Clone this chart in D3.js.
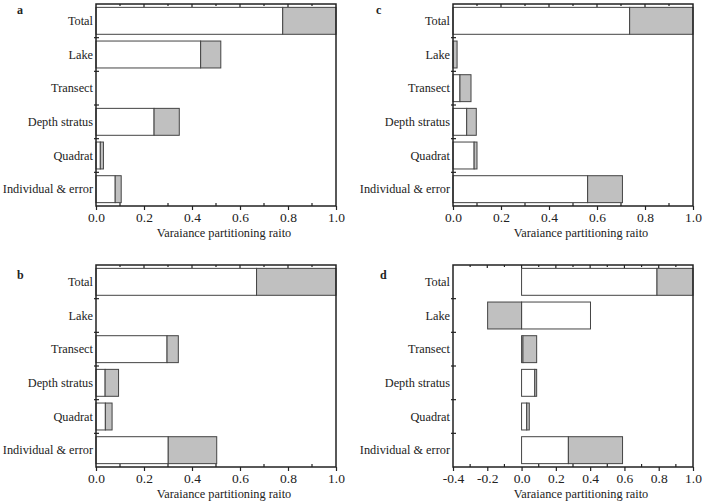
<!DOCTYPE html>
<html><head><meta charset="utf-8">
<script src="https://cdn.jsdelivr.net/npm/d3@7"></script>
<style>body{margin:0;background:#fff}svg{display:block}</style>
</head><body><svg id="c" width="704" height="504"></svg>
<script>
const categories = ["Total","Lake","Transect","Depth stratus","Quadrat","Individual & error"];
// white (first) component and grey (second) component for each panel
const whiteA = [0.778, 0.436, 0, 0.242, 0.018, 0.080];
const greyA  = [0.222, 0.084, 0, 0.105, 0.013, 0.025];
const whiteB = [0.669, 0, 0.296, 0.038, 0.039, 0.301];
const greyB  = [0.331, 0, 0.047, 0.056, 0.028, 0.202];
const whiteC = [0.736, 0, 0.029, 0.057, 0.088, 0.561];
const greyC  = [0.264, 0.017, 0.046, 0.040, 0.012, 0.145];
const whiteD = [0.790, 0.402, 0.008, 0.077, 0.030, 0.273];
const greyD  = [0.210, -0.198, 0.080, 0.011, 0.015, 0.316];
const ticksA = [0, 0.2, 0.4, 0.6, 0.8, 1.0];
const ticksD = [-0.4, -0.2, 0, 0.2, 0.4, 0.6, 0.8, 1.0];
const xTitle = "Varaiance partitioning raito";

const panels = [
  {label:"a", white:whiteA, grey:greyA, dom:[0,1], ticks:ticksA, l:96, r:336, t:4, b:206, lx:17, ly:14},
  {label:"c", white:whiteC, grey:greyC, dom:[0,1], ticks:ticksA, l:453, r:693, t:4, b:206, lx:376, ly:14},
  {label:"b", white:whiteB, grey:greyB, dom:[0,1], ticks:ticksA, l:96, r:336, t:265, b:467, lx:17, ly:279},
  {label:"d", white:whiteD, grey:greyD, dom:[-0.4,1], ticks:ticksD, l:453, r:693, t:265, b:467, lx:380, ly:279}
];
const svg = d3.select("#c");
const fmt = v => d3.format(".1f")(v).replace("\u2212","-");
const FONT = '"Times New Roman", Times, "Liberation Serif", serif';

panels.forEach(p => {
  const g = svg.append("g");
  const x = d3.scaleLinear().domain(p.dom).range([p.l, p.r]);
  const y = d3.scaleBand().domain(categories).range([p.t, p.b]).paddingInner(0.2).paddingOuter(0.1);
  const rows = categories.map((c,i)=>({c, w:p.white[i], gr:p.grey[i]}));
  g.selectAll("rect.w").data(rows.filter(d=>d.w>0)).join("rect")
    .attr("x", d=>x(0)).attr("width", d=>x(d.w)-x(0))
    .attr("y", d=>y(d.c)).attr("height", y.bandwidth())
    .attr("fill","#fff").attr("stroke","#444").attr("stroke-width",1);
  g.selectAll("rect.g").data(rows.filter(d=>d.gr!==0)).join("rect")
    .attr("x", d=> d.gr<0 ? x(d.gr) : x(d.w))
    .attr("width", d=> d.gr<0 ? x(0)-x(d.gr) : x(d.w+d.gr)-x(d.w))
    .attr("y", d=>y(d.c)).attr("height", y.bandwidth())
    .attr("fill","#c0c0c0").attr("stroke","#444").attr("stroke-width",1);
  g.append("rect").attr("x",p.l).attr("y",p.t).attr("width",p.r-p.l).attr("height",p.b-p.t)
    .attr("fill","none").attr("stroke","#222").attr("stroke-width",1.5);
  const minor = d3.range(p.dom[0]+0.1, p.dom[1], 0.2).map(v=>+v.toFixed(2));
  const bot = d3.axisBottom(x).tickValues(p.ticks).tickFormat(fmt).tickSize(4).tickPadding(2);
  const ba = g.append("g").attr("transform",`translate(0,${p.b})`).call(bot)
    .attr("font-family", FONT).attr("font-size", 13.5);
  ba.select(".domain").remove();
  ba.selectAll("line").attr("stroke","#222").attr("stroke-width",1.2);
  ba.selectAll("text").attr("fill","#222");
  g.selectAll("line.bm").data(minor).join("line")
    .attr("x1",d=>x(d)).attr("x2",d=>x(d)).attr("y1",p.b).attr("y2",p.b-3)
    .attr("stroke","#222").attr("stroke-width",1.2);
  const topT = d3.range(p.dom[0]+0.1, p.dom[1]-0.01, 0.1).map(v=>+v.toFixed(2));
  g.selectAll("line.tt").data(topT).join("line")
    .attr("x1",d=>x(d)).attr("x2",d=>x(d)).attr("y1",p.t)
    .attr("y2",d=> p.ticks.some(t=>Math.abs(t-d)<1e-6) ? p.t+3 : p.t+2)
    .attr("stroke","#222").attr("stroke-width",1.2);
  const step = y.step(), gap = (step - y.bandwidth())/2;
  const bounds = categories.slice(1).map(c=>y(c)-gap);
  g.selectAll("line.lt").data(bounds).join("line")
    .attr("x1",p.l-2).attr("x2",p.l+3).attr("y1",d=>d).attr("y2",d=>d)
    .attr("stroke","#222").attr("stroke-width",1.2);
  g.selectAll("text.cat").data(categories).join("text")
    .attr("x",p.l-3).attr("y",d=>y(d)+y.bandwidth()/2).attr("dy","0.35em")
    .attr("text-anchor","end").attr("font-family",FONT).attr("font-size",12.3).attr("fill","#222").text(d=>d);
  g.append("text").attr("x",(p.l+p.r)/2+8).attr("y",p.b+31).attr("text-anchor","middle")
    .attr("font-family",FONT).attr("font-size",12.3).attr("fill","#222").text(xTitle);
  g.append("text").attr("x",p.lx).attr("y",p.ly).attr("font-family",FONT)
    .attr("font-size",12).attr("font-weight","bold").attr("fill","#222").text(p.label);
});
</script></body></html>
